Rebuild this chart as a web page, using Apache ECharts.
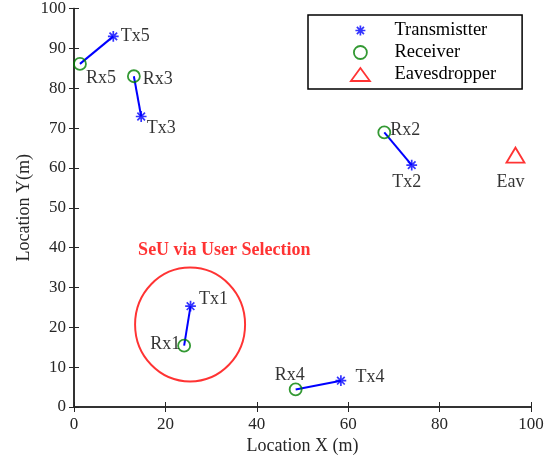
<!DOCTYPE html>
<html>
<head>
<meta charset="utf-8">
<script src="https://cdn.jsdelivr.net/npm/echarts@6/dist/echarts.min.js"></script>
<style>html,body{margin:0;padding:0;background:#fff}#c{width:558px;height:464px}</style>
</head>
<body>
<div id="c"></div>
<script>
// ---- data ----
const txNames = ['Tx1', 'Tx2', 'Tx3', 'Tx4', 'Tx5'];
const txX = [25.5, 73.9, 14.7, 58.4, 8.6];
const txY = [25.3, 60.7, 72.9, 6.6, 93.0];
const rxNames = ['Rx1', 'Rx2', 'Rx3', 'Rx4', 'Rx5'];
const rxX = [24.1, 67.9, 13.1, 48.5, 1.3];
const rxY = [15.4, 68.9, 83.0, 4.4, 86.1];
const eavNames = ['Eav'];
const eavX = [96.6];
const eavY = [63.2];
const selectionCenterX = [25.4];
const selectionCenterY = [20.7];
const annotationText = ['SeU via User Selection'];
const annotationX = [32.9];
const annotationY = [39.3];
const xTicks = [0, 20, 40, 60, 80, 100];
const yTicks = [0, 10, 20, 30, 40, 50, 60, 70, 80, 90, 100];
const legendNames = ['Transmistter', 'Receiver', 'Eavesdropper'];

// ---- styling (not data) ----
const FONT = 'Liberation Serif, Times New Roman, serif';
const AX = '#262626';
const BLUE = '#0000ff';
const GREEN = '#008000';
const RED = '#ff0000';
const ASTERISK = 'path://M0,-5L0,5M-5,0L5,0M-3.54,-3.54L3.54,3.54M-3.54,3.54L3.54,-3.54M-6.5,-6.5M6.5,6.5';
const TRI = 'path://M0,-8L9.5,8L-9.5,8Z';
const TRI_LEG = 'path://M0,-6.5L9.5,6.5L-9.5,6.5Z';
const labelOffset = {
  Tx1: [23, -7], Tx2: [-5, 17], Tx3: [20, 12], Tx4: [29, -3], Tx5: [22, 0],
  Rx1: [-19, -1], Rx2: [21, -2], Rx3: [24, 3], Rx4: [-6, -14], Rx5: [21, 14],
  Eav: [-5, 27]
};

function pts(names, xs, ys) {
  return names.map((n, i) => ({
    name: n, value: [xs[i], ys[i]],
    label: { offset: labelOffset[n] }
  }));
}
const labelStyle = {
  show: true, position: 'inside', formatter: '{b}',
  fontFamily: FONT, fontSize: 18, color: '#000', align: 'center', verticalAlign: 'middle'
};

const series = [];
txNames.forEach((n, i) => {
  series.push({
    type: 'line', silent: true, showSymbol: false, symbol: 'none',
    data: [[txX[i], txY[i]], [rxX[i], rxY[i]]],
    lineStyle: { color: BLUE, width: 2 }, z: 2
  });
});
series.push({
  type: 'scatter', silent: true, symbol: 'circle', symbolSize: [110, 114],
  data: selectionCenterX.map((x, i) => [x, selectionCenterY[i]]),
  itemStyle: { color: 'transparent', borderColor: RED, borderWidth: 2 }, z: 1
});
series.push({
  name: legendNames[0], type: 'scatter', symbol: ASTERISK, symbolSize: 14,
  data: pts(txNames, txX, txY),
  itemStyle: { color: 'none', borderColor: BLUE, borderWidth: 1.7 },
  label: labelStyle, z: 4
});
series.push({
  name: legendNames[1], type: 'scatter', symbol: 'circle', symbolSize: 12,
  data: pts(rxNames, rxX, rxY),
  itemStyle: { color: 'transparent', borderColor: GREEN, borderWidth: 1.8 },
  label: labelStyle, z: 3
});
series.push({
  name: legendNames[2], type: 'scatter', symbol: TRI, symbolSize: [18, 15], symbolKeepAspect: false,
  data: pts(eavNames, eavX, eavY),
  itemStyle: { color: 'transparent', borderColor: RED, borderWidth: 1.8 },
  label: labelStyle, z: 3
});
series.push({
  type: 'scatter', silent: true, symbol: 'circle', symbolSize: 1,
  data: annotationText.map((t, i) => ({ name: t, value: [annotationX[i], annotationY[i]] })),
  itemStyle: { color: 'transparent' },
  label: { show: true, position: 'inside', formatter: '{b}', fontFamily: FONT, fontSize: 18,
           fontWeight: 'bold', color: RED, align: 'center', verticalAlign: 'middle' },
  z: 5
});

const axisCommon = {
  type: 'value', splitLine: { show: false },
  axisLine: { show: true, lineStyle: { color: AX, width: 1.5 } },
  axisTick: { show: true, inside: true, length: 5, lineStyle: { color: AX, width: 1 } }
};
const xMin = xTicks[0], xMax = xTicks[xTicks.length - 1], xInt = xTicks[1] - xTicks[0];
const yMin = yTicks[0], yMax = yTicks[yTicks.length - 1], yInt = yTicks[1] - yTicks[0];

const option = {
  animation: false,
  grid: { left: 74, right: 27, top: 7, bottom: 57, containLabel: false },
  xAxis: [
    Object.assign({}, axisCommon, {
      min: xMin, max: xMax, interval: xInt, position: 'bottom',
      name: 'Location X (m)', nameLocation: 'middle', nameGap: 30, nameMoveOverlap: false,
      nameTextStyle: { fontFamily: FONT, fontSize: 18, color: AX },
      axisLabel: { fontFamily: FONT, fontSize: 17, color: AX, margin: 9 }
    }),
    Object.assign({}, axisCommon, {
      min: xMin, max: xMax, interval: xInt, position: 'top', axisLabel: { show: false }
    })
  ],
  yAxis: [
    Object.assign({}, axisCommon, {
      min: yMin, max: yMax, interval: yInt, position: 'left',
      name: 'Location Y(m)', nameLocation: 'middle', nameGap: 41, nameMoveOverlap: false,
      nameTextStyle: { fontFamily: FONT, fontSize: 18, color: AX },
      axisLabel: { fontFamily: FONT, fontSize: 17, color: AX, margin: 8 }
    }),
    Object.assign({}, axisCommon, {
      min: yMin, max: yMax, interval: yInt, position: 'right', axisLabel: { show: false }
    })
  ],
  legend: {
    orient: 'vertical', left: 308, top: 15,
    padding: [6, 26, 5, 42],
    itemWidth: 58, itemHeight: 13, itemGap: 3,
    borderColor: '#000', borderWidth: 1.5, backgroundColor: '#fff',
    textStyle: { fontFamily: FONT, fontSize: 18.5, color: '#000' },
    data: [
      { name: legendNames[0], icon: ASTERISK, itemStyle: { color: 'none', borderColor: BLUE, borderWidth: 1.7 } },
      { name: legendNames[1], icon: 'circle', itemStyle: { color: 'transparent', borderColor: GREEN, borderWidth: 1.8 } },
      { name: legendNames[2], icon: TRI_LEG, itemStyle: { color: 'transparent', borderColor: RED, borderWidth: 1.8 } }
    ],
    selectedMode: false
  },
  series: series
};
const chart = echarts.init(document.getElementById('c'), null, { renderer: 'canvas' });
chart.setOption(option);
</script>
</body>
</html>
